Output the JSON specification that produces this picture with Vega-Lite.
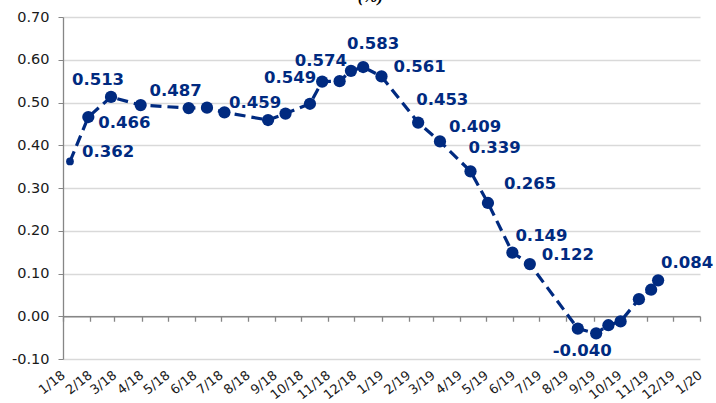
{
  "$schema": "https://vega.github.io/schema/vega-lite/v6.json",
  "autosize": "none",
  "width": 637,
  "height": 342,
  "padding": {"left": 63, "top": 17, "right": 16, "bottom": 44},
  "background": "white",
  "title": {"text": "(%)", "font": "Liberation Serif", "fontStyle": "italic", "fontWeight": "bold", "fontSize": 17, "color": "#000000", "offset": 3, "dx": -11, "anchor": "middle"},
  "config": {
    "view": {"stroke": null},
    "locale": {"number": {"decimal": ".", "thousands": ",", "grouping": [3], "currency": ["$", ""], "minus": "-"}}
  },
  "data": {"values": [
    {"date": "2018-01-09", "v": 0.362},
    {"date": "2018-01-30", "v": 0.466},
    {"date": "2018-02-25", "v": 0.513},
    {"date": "2018-03-31", "v": 0.494},
    {"date": "2018-05-25", "v": 0.487},
    {"date": "2018-06-15", "v": 0.488},
    {"date": "2018-07-05", "v": 0.477},
    {"date": "2018-08-24", "v": 0.459},
    {"date": "2018-09-13", "v": 0.474},
    {"date": "2018-10-11", "v": 0.497},
    {"date": "2018-10-25", "v": 0.549},
    {"date": "2018-11-14", "v": 0.55},
    {"date": "2018-11-27", "v": 0.574},
    {"date": "2018-12-11", "v": 0.583},
    {"date": "2019-01-01", "v": 0.561},
    {"date": "2019-02-12", "v": 0.453},
    {"date": "2019-03-09", "v": 0.409},
    {"date": "2019-04-13", "v": 0.339},
    {"date": "2019-05-03", "v": 0.265},
    {"date": "2019-05-31", "v": 0.149},
    {"date": "2019-06-20", "v": 0.122},
    {"date": "2019-08-14", "v": -0.029},
    {"date": "2019-09-04", "v": -0.04},
    {"date": "2019-09-18", "v": -0.021},
    {"date": "2019-10-02", "v": -0.012},
    {"date": "2019-10-23", "v": 0.04},
    {"date": "2019-11-06", "v": 0.062},
    {"date": "2019-11-14", "v": 0.084}
  ]},
  "encoding": {
    "x": {"field": "date", "type": "temporal",
      "scale": {"type": "utc", "domain": [{"year": 2018, "month": 1, "date": 1, "utc": true}, {"year": 2020, "month": 1, "date": 1, "utc": true}], "nice": false},
      "axis": {"orient": "bottom", "title": null, "format": "%-m/%y", "tickCount": {"interval": "month", "step": 1},
        "offset": -42.75,
        "labelAngle": -38, "labelAlign": "right", "labelBaseline": "middle", "labelFont": "DejaVu Sans", "labelFontSize": 13, "labelColor": "#1a1a1a",
        "labelPadding": 52, "ticks": true, "tickSize": 5, "tickColor": "#868686", "tickWidth": 1.3,
        "domain": true, "domainColor": "#868686", "domainWidth": 1.5, "grid": false,
        "labelOverlap": false, "labelBound": false, "labelFlush": false}},
    "y": {"field": "v", "type": "quantitative",
      "scale": {"domain": [-0.1, 0.7], "nice": false, "zero": false},
      "axis": {"title": null, "values": [-0.1, 0, 0.1, 0.2, 0.3, 0.4, 0.5, 0.6, 0.7], "format": ".2f",
        "labelFont": "DejaVu Sans", "labelFontSize": 14.5, "labelColor": "#1a1a1a", "labelPadding": 9,
        "tickSize": 5, "tickColor": "#868686", "domainColor": "#868686", "domainWidth": 1.3,
        "grid": true, "gridColor": "#d9d9d9", "gridWidth": 1.3}}
  },
  "layer": [
    {
      "mark": {"type": "line", "color": "#002A80", "strokeWidth": 3.2, "strokeDash": [11, 6]}
    },
    {
      "transform": [{"filter": "datum.v !== 0.362"}],
      "mark": {"type": "circle", "color": "#002A80", "size": 150, "opacity": 1}
    },
    {
      "transform": [{"filter": "datum.v === 0.362"}],
      "mark": {"type": "circle", "color": "#002A80", "size": 60, "opacity": 1}
    },
    {
      "transform": [{"filter": {"field": "v", "oneOf": [0.362, 0.561, 0.122]}}],
      "mark": {"type": "text", "align": "left", "baseline": "middle", "dx": 12, "dy": -9, "font": "DejaVu Sans", "fontWeight": "bold", "fontSize": 16.5, "color": "#002A80"},
      "encoding": {"text": {"field": "v", "type": "quantitative", "format": ".3f"}}
    },
    {
      "transform": [{"filter": {"field": "v", "oneOf": [0.409]}}],
      "mark": {"type": "text", "align": "left", "baseline": "middle", "dx": 9, "dy": -14, "font": "DejaVu Sans", "fontWeight": "bold", "fontSize": 16.5, "color": "#002A80"},
      "encoding": {"text": {"field": "v", "type": "quantitative", "format": ".3f"}}
    },
    {
      "transform": [{"filter": {"field": "v", "oneOf": [0.466]}}],
      "mark": {"type": "text", "align": "left", "baseline": "middle", "dx": 10, "dy": 6, "font": "DejaVu Sans", "fontWeight": "bold", "fontSize": 16.5, "color": "#002A80"},
      "encoding": {"text": {"field": "v", "type": "quantitative", "format": ".3f"}}
    },
    {
      "transform": [{"filter": {"field": "v", "oneOf": [0.513, 0.487, 0.459]}}],
      "mark": {"type": "text", "align": "center", "baseline": "middle", "dx": -13, "dy": -17, "font": "DejaVu Sans", "fontWeight": "bold", "fontSize": 16.5, "color": "#002A80"},
      "encoding": {"text": {"field": "v", "type": "quantitative", "format": ".3f"}}
    },
    {
      "transform": [{"filter": {"field": "v", "oneOf": [0.549]}}],
      "mark": {"type": "text", "align": "right", "baseline": "middle", "dx": -6, "dy": -4, "font": "DejaVu Sans", "fontWeight": "bold", "fontSize": 16.5, "color": "#002A80"},
      "encoding": {"text": {"field": "v", "type": "quantitative", "format": ".3f"}}
    },
    {
      "transform": [{"filter": {"field": "v", "oneOf": [0.574]}}],
      "mark": {"type": "text", "align": "right", "baseline": "middle", "dx": -4, "dy": -10, "font": "DejaVu Sans", "fontWeight": "bold", "fontSize": 16.5, "color": "#002A80"},
      "encoding": {"text": {"field": "v", "type": "quantitative", "format": ".3f"}}
    },
    {
      "transform": [{"filter": {"field": "v", "oneOf": [0.583]}}],
      "mark": {"type": "text", "align": "center", "baseline": "middle", "dx": 10, "dy": -23, "font": "DejaVu Sans", "fontWeight": "bold", "fontSize": 16.5, "color": "#002A80"},
      "encoding": {"text": {"field": "v", "type": "quantitative", "format": ".3f"}}
    },
    {
      "transform": [{"filter": {"field": "v", "oneOf": [0.453, 0.339]}}],
      "mark": {"type": "text", "align": "left", "baseline": "middle", "dx": -2, "dy": -23, "font": "DejaVu Sans", "fontWeight": "bold", "fontSize": 16.5, "color": "#002A80"},
      "encoding": {"text": {"field": "v", "type": "quantitative", "format": ".3f"}}
    },
    {
      "transform": [{"filter": {"field": "v", "oneOf": [0.265]}}],
      "mark": {"type": "text", "align": "left", "baseline": "middle", "dx": 16, "dy": -19, "font": "DejaVu Sans", "fontWeight": "bold", "fontSize": 16.5, "color": "#002A80"},
      "encoding": {"text": {"field": "v", "type": "quantitative", "format": ".3f"}}
    },
    {
      "transform": [{"filter": {"field": "v", "oneOf": [0.149, 0.084]}}],
      "mark": {"type": "text", "align": "left", "baseline": "middle", "dx": 3, "dy": -17, "font": "DejaVu Sans", "fontWeight": "bold", "fontSize": 16.5, "color": "#002A80"},
      "encoding": {"text": {"field": "v", "type": "quantitative", "format": ".3f"}}
    },
    {
      "transform": [{"filter": {"field": "v", "oneOf": [-0.04]}}],
      "mark": {"type": "text", "align": "center", "baseline": "middle", "dx": -14, "dy": 18, "font": "DejaVu Sans", "fontWeight": "bold", "fontSize": 16.5, "color": "#002A80"},
      "encoding": {"text": {"field": "v", "type": "quantitative", "format": ".3f"}}
    }
  ]
}
